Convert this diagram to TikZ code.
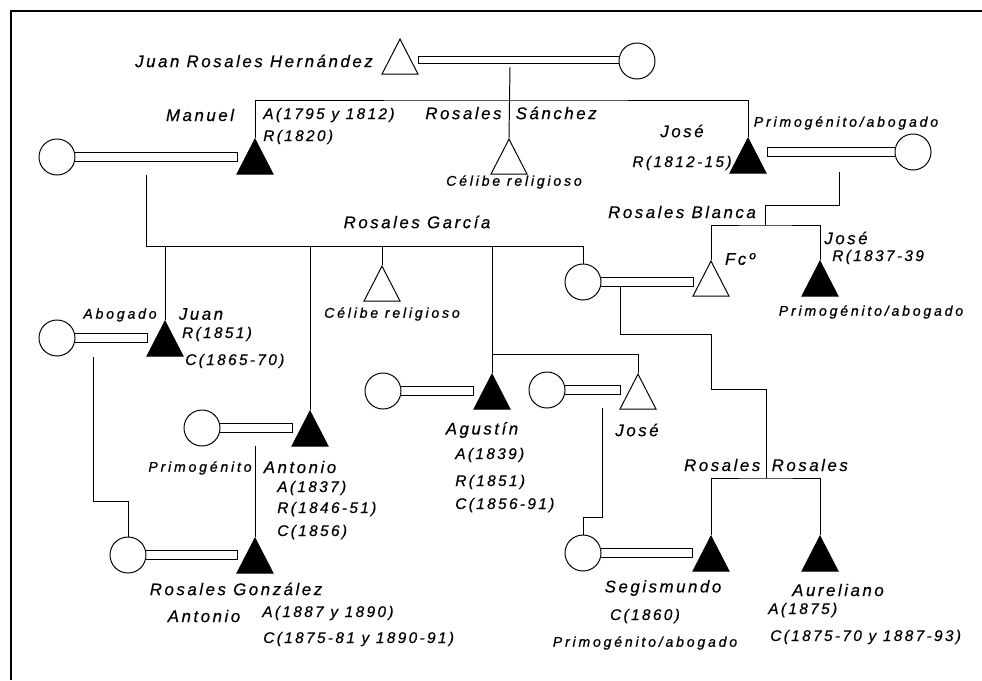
\documentclass[tikz,border=0pt]{standalone}
\usepackage{fontspec}
\newfontfamily\namefont[LetterSpace=15, FakeBold=0.4]{Liberation Sans}
\newfontfamily\notefont[LetterSpace=20, FakeBold=0.8]{Liberation Sans}
\usetikzlibrary{shapes.geometric, calc, backgrounds}
\tikzstyle{woman} = [circle, draw, fill=white, minimum size=0.9cm, inner sep=0pt, line width=0.7pt]
\tikzstyle{man} = [isosceles triangle, isosceles triangle apex angle=54, isosceles triangle stretches, shape border rotate=90, minimum width=0.9cm, minimum height=0.875cm, inner sep=0pt, draw, fill=white, line width=0.7pt, anchor=apex]
\tikzstyle{heir} = [man, fill=black]
\tikzstyle{bond} = [draw, fill=white, line width=0.6pt]
\tikzstyle{kin} = [line width=0.7pt]
\tikzstyle{lbl} = [font=\namefont\itshape\fontsize{12}{14}\selectfont, inner sep=0pt]
\tikzstyle{datum} = [font=\namefont\itshape\fontsize{11}{13}\selectfont, inner sep=0pt]
\tikzstyle{remark} = [font=\notefont\itshape\fontsize{10}{12}\selectfont, inner sep=0pt]
\begin{document}
\begin{tikzpicture}[x=0.025cm, y=-0.025cm]
\useasboundingbox (0,0) rectangle (982,680);
\draw[line width=1pt] (11,680) -- (11,11) -- (982,11);

% first generation
\node (jrh) [man] at (400,38) {};
\node (jrhw) [woman] at (637,61) {};
\node (manuel) [heir] at (255,138) {};
\node (mw) [woman] at (57,157) {};
\node (celibe1) [man] at (509,138) {};
\node (jose1) [heir] at (748,137) {};
\node (j1w) [woman] at (913,152) {};

% Rosales Garcia / Rosales Blanca
\node (juan) [heir] at (165,320) {};
\node (juanw) [woman] at (57,338) {};
\node (antonio) [heir] at (310,410) {};
\node (antw) [woman] at (202,428) {};
\node (celibe2) [man] at (382,265) {};
\node (agustin) [heir] at (492,373) {};
\node (agw) [woman] at (383,391) {};
\node (jose3) [man] at (638,373) {};
\node (j3w) [woman] at (547,390) {};
\node (fcw) [woman] at (583,282) {};
\node (fco) [man] at (711,260) {};
\node (jose2) [heir] at (820,260) {};

% third generation
\node (rgw) [woman] at (128,555) {};
\node (rgon) [heir] at (255,537) {};
\node (segw) [woman] at (583,553) {};
\node (segis) [heir] at (711,535) {};
\node (aurel) [heir] at (820,535) {};

% marriage bars
\begin{scope}[on background layer]
\draw[bond] ($(jrhw.center)+(0,-4.5)$) rectangle ($(jrh.apex |- jrhw.center)+(18,2.5)$);
\draw[bond] ($(mw.center)+(0,-4.5)$) rectangle ($(manuel.apex |- mw.center)+(-18,4.5)$);
\draw[bond] ($(j1w.center)+(0,-4.5)$) rectangle ($(jose1.apex |- j1w.center)+(19,4.5)$);
\draw[bond] ($(juanw.center)+(0,-4.5)$) rectangle ($(juan.apex |- juanw.center)+(-18,4.5)$);
\draw[bond] ($(antw.center)+(0,-4.5)$) rectangle ($(antonio.apex |- antw.center)+(-18,4.5)$);
\draw[bond] ($(agw.center)+(0,-4.5)$) rectangle ($(agustin.apex |- agw.center)+(-19,4.5)$);
\draw[bond] ($(j3w.center)+(0,-4.5)$) rectangle ($(jose3.apex |- j3w.center)+(-18,4.5)$);
\draw[bond] ($(fcw.center)+(0,-4.5)$) rectangle ($(fco.apex |- fcw.center)+(-18,4.5)$);
\draw[bond] ($(rgw.center)+(0,-4.5)$) rectangle ($(rgon.apex |- rgw.center)+(-18,4.5)$);
\draw[bond] ($(segw.center)+(0,-4.5)$) rectangle ($(segis.apex |- segw.center)+(-19,4.5)$);
\end{scope}

% descent lines
\coordinate (d0) at (510,67);
\coordinate (s0) at (510,100);
\draw[kin] (d0) -- (celibe1.apex);
\draw[kin] (manuel.apex) |- (s0) -| (jose1.apex);

\coordinate (d1) at (146,175);
\coordinate (s1) at (583,246);
\draw[kin] (d1) |- (s1) -- (fcw.north);
\draw[kin] (juan.apex) -- (juan.apex |- s1);
\draw[kin] (antonio.apex) -- (antonio.apex |- s1);
\draw[kin] (celibe2.apex) -- (celibe2.apex |- s1);
\draw[kin] (agustin.apex) -- (agustin.apex |- s1);
\coordinate (s2) at (492,354);
\draw[kin] (s2) -| (jose3.apex);

\coordinate (d2) at (839,172);
\coordinate (k2) at (765,205);
\coordinate (s3) at (765,225);
\draw[kin] (d2) |- (k2) -- (s3);
\draw[kin] (fco.apex) |- (s3) -| (jose2.apex);

\coordinate (d3) at (93,357);
\coordinate (k3) at (128,501);
\draw[kin] (d3) |- (k3) -- (rgw.north);

\coordinate (d4) at (255,446);
\draw[kin] (d4) -- (rgon.apex);

\coordinate (d5) at (602,408);
\coordinate (k5) at (583,517);
\draw[kin] (d5) |- (k5) -- (segw.north);

\coordinate (d6) at (620,286);
\coordinate (k6) at (711,334);
\coordinate (k7) at (766,389);
\coordinate (s4) at (766,478);
\draw[kin] (d6) |- (k6) |- (k7) -- (s4);
\draw[kin] (segis.apex) |- (s4) -| (aurel.apex);

% labels
\node (t1) [lbl] at (254,61) {Juan Rosales Hernández};
\node (t2) [lbl] at (200,115) {Manuel};
\node (t3) [datum, anchor=west] at (263,115) {A(1795 y 1812)};
\node (t4) [datum, anchor=west] at (263,137) {R(1820)};
\node (t5) [lbl] at (511,113) {Rosales\hspace{5pt} Sánchez};
\node (t6) [remark] at (514,182) {Célibe religioso};
\node (t7) [lbl] at (682,131) {José};
\node (t8) [datum] at (682,163) {R(1812-15)};
\node (t9) [remark] at (846,123) {Primogénito/abogado};

\node (t10) [lbl] at (417,222) {Rosales García};
\node (t11) [lbl] at (682,212) {Rosales Blanca};
\node (t12) [remark] at (120,315) {Abogado};
\node (t13) [lbl] at (201,314) {Juan};
\node (t14) [datum] at (217,334) {R(1851)};
\node (t15) [datum, anchor=west] at (185,361) {C(1865-70)};
\node (t16) [remark] at (392,314) {Célibe religioso};
\node (t17) [lbl] at (740,259) {Fcº};
\node (t18) [lbl] at (846,238) {José};
\node (t19) [datum, anchor=west] at (832,257) {R(1837-39};
\node (t20) [remark] at (871,312) {Primogénito/abogado};

\node (t21) [remark] at (200,468) {Primogénito};
\node (t22) [lbl] at (300,467) {Antonio};
\node (t23) [datum, anchor=west] at (277,488) {A(1837)};
\node (t24) [datum, anchor=west] at (277,509) {R(1846-51)};
\node (t25) [datum, anchor=west] at (277,532) {C(1856)};
\node (t26) [lbl] at (482,430) {Agustín};
\node (t27) [datum, anchor=west] at (455,455) {A(1839)};
\node (t28) [datum, anchor=west] at (455,482) {R(1851)};
\node (t29) [datum, anchor=west] at (455,505) {C(1856-91)};
\node (t30) [lbl] at (637,430) {José};
\node (t31) [lbl] at (766,465) {Rosales\hspace{3pt} Rosales};

\node (t32) [lbl] at (236,589) {Rosales González};
\node (t33) [lbl] at (204,616) {Antonio};
\node (t34) [datum, anchor=west] at (262,613) {A(1887 y 1890)};
\node (t35) [datum, anchor=west] at (263,639) {C(1875-81 y 1890-91)};
\node (t36) [lbl] at (663,588) {Segismundo};
\node (t37) [datum] at (645,616) {C(1860)};
\node (t38) [remark] at (645,643) {Primogénito/abogado};
\node (t39) [lbl] at (838,590) {Aureliano};
\node (t40) [datum, anchor=west] at (768,610) {A(1875)};
\node (t41) [datum, anchor=west] at (770,637) {C(1875-70 y 1887-93)};

\end{tikzpicture}
\end{document}
